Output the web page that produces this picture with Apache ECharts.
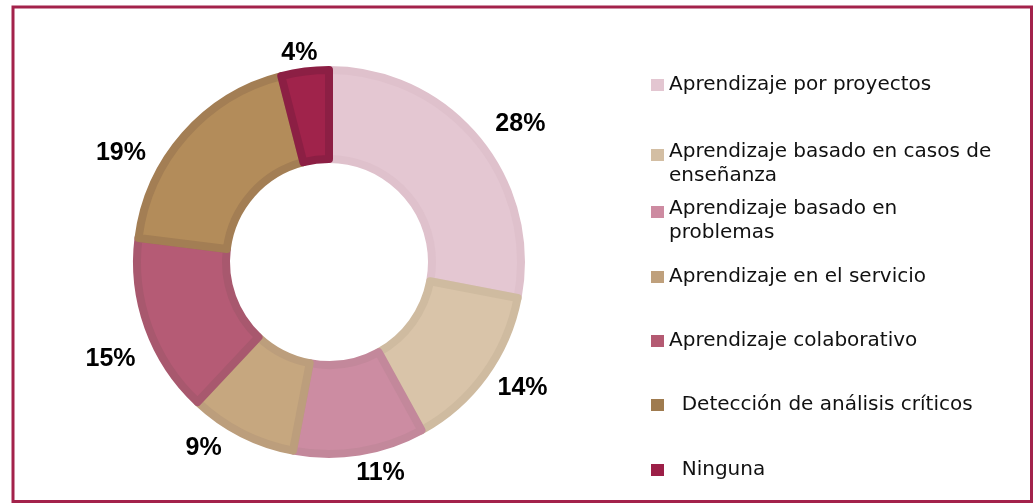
<!DOCTYPE html>
<html>
<head>
<meta charset="utf-8">
<script src="https://cdn.jsdelivr.net/npm/echarts@6/dist/echarts.min.js"></script>
<style>
  html, body { margin: 0; padding: 0; background: #fff; }
  #main { width: 1034px; height: 503px; }
</style>
</head>
<body>
<div id="main"></div>
<script>
var categories = [
  "Aprendizaje por proyectos",
  "Aprendizaje basado en casos de enseñanza",
  "Aprendizaje basado en problemas",
  "Aprendizaje en el servicio",
  "Aprendizaje colaborativo",
  "Detección de análisis críticos",
  "Ninguna"
];
var values = [28, 14, 11, 9, 15, 19, 4];
// texto de la leyenda tal como se corta en la imagen
var legendText = [
  ["Aprendizaje por proyectos"],
  ["Aprendizaje basado en casos de", "enseñanza"],
  ["Aprendizaje basado en", "problemas"],
  ["Aprendizaje en el servicio"],
  ["Aprendizaje colaborativo"],
  ["  Detección de análisis críticos"],
  ["  Ninguna"]
];

// colores
var fillColors = ["#e4c7d2", "#d9c4a9", "#cc8ca2", "#c6a77f", "#b55b75", "#b38c5a", "#a0234b"];
var borderColors = ["#dfc1cc", "#cfbba0", "#c3889b", "#bc9e7c", "#a8586e", "#a37e54", "#8c1f44"];
var legendColors = ["#e3c6d1", "#d3bea3", "#cd8ba1", "#bfa07c", "#b45a72", "#9f7b4f", "#9c1f47"];
var legendTops = [75, 142, 199, 267, 331, 395, 460];
// ajuste fino de las etiquetas de porcentaje
var labelNudge = [[-2, -3], [-8, 1], [-11, 2], [-6, -3], [11, 25], [-19, 31], [20, 1]];

var chart = echarts.init(document.getElementById("main"));

var font = { fontFamily: "DejaVu Sans", fontSize: 20, color: "#111" };

var legends = categories.map(function (name, i) {
  return {
    left: 651,
    top: legendTops[i],
    padding: 0,
    icon: "rect",
    itemWidth: 13,
    itemHeight: 12,
    itemStyle: { borderWidth: 0 },
    data: [{ name: name, itemStyle: { color: legendColors[i] } }],
    formatter: function () {
      var t = legendText[i];
      if (t.length === 1) return "{s|" + t[0] + "}";
      return "{a|" + t[0] + "}\n{b|" + t[1] + "}";
    },
    textStyle: {
      fontFamily: font.fontFamily,
      fontSize: font.fontSize,
      color: font.color,
      rich: {
        s: Object.assign({ lineHeight: 24 }, font),
        a: Object.assign({ lineHeight: 42 }, font),
        b: Object.assign({ lineHeight: 6 }, font)
      }
    }
  };
});

var option = {
  animation: false,
  backgroundColor: "#fff",
  graphic: [{
    type: "rect",
    shape: { x: 13, y: 7, width: 1018.5, height: 494.5 },
    style: { fill: "none", stroke: "#a3224b", lineWidth: 3 },
    silent: true
  }],
  legend: legends,
  series: [{
    type: "pie",
    center: [329, 262],
    radius: [103, 192],
    startAngle: 90,
    clockwise: true,
    avoidLabelOverlap: false,
    itemStyle: { borderWidth: 8 },
    label: {
      show: true,
      position: "outside",
      formatter: "{c}%",
      fontFamily: "Liberation Sans",
      fontWeight: "bold",
      fontSize: 25,
      color: "#000"
    },
    labelLine: { show: false, length: 20, length2: 0 },
    labelLayout: function (p) {
      return { dx: labelNudge[p.dataIndex][0], dy: labelNudge[p.dataIndex][1] };
    },
    emphasis: { scale: false },
    data: categories.map(function (name, i) {
      return {
        name: name,
        value: values[i],
        itemStyle: { color: fillColors[i], borderColor: borderColors[i] }
      };
    })
  }]
};

chart.setOption(option);
</script>
</body>
</html>
